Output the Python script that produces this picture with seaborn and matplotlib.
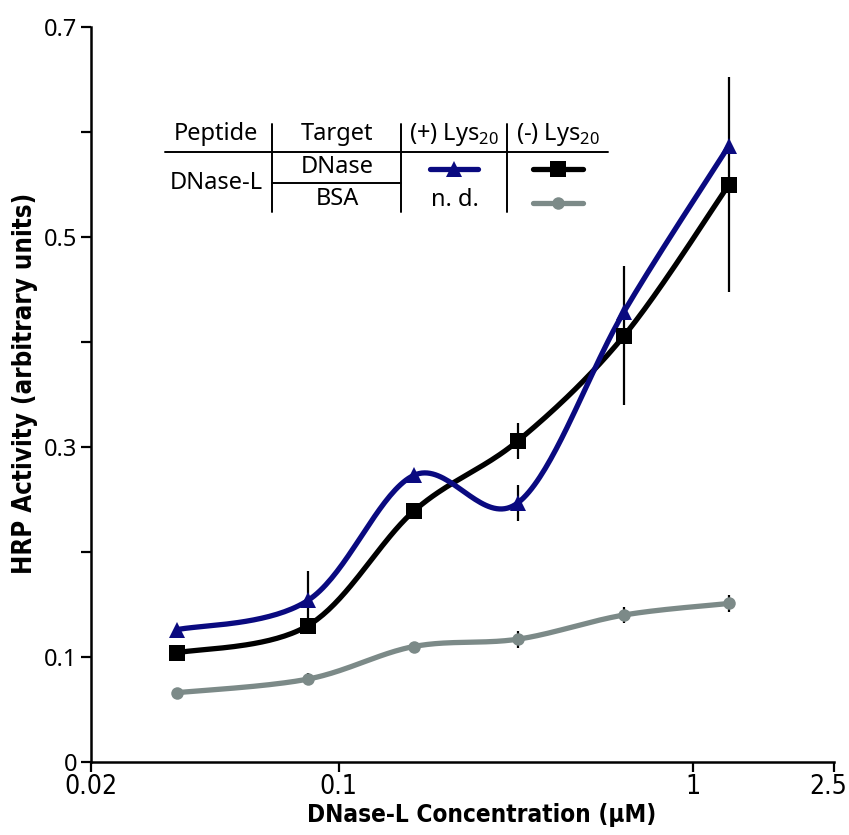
import numpy as np
import seaborn as sns
import matplotlib.pyplot as plt
import matplotlib.lines as mlines
import matplotlib.transforms as mtransforms
from matplotlib import font_manager

# concentrations (uM) and HRP activity
conc = [0.035, 0.082, 0.163, 0.321, 0.639, 1.264]
plus_dnase = [0.126, 0.154, 0.273, 0.247, 0.429, 0.587]
minus_dnase = [0.104, 0.130, 0.239, 0.306, 0.406, 0.550]
minus_bsa = [0.066, 0.079, 0.110, 0.117, 0.140, 0.151]

plus_dnase_err = [0.0, 0.028, 0.0, 0.017, 0.0, 0.0]
minus_dnase_err = [0.0, 0.0, 0.0, 0.017, 0.066, 0.102]
minus_bsa_err = [0.0, 0.006, 0.0, 0.008, 0.008, 0.008]

x_ticks = [0.02, 0.1, 1, 2.5]
x_tick_labels = ["0.02", "0.1", "1", "2.5"]
y_ticks = [0, 0.1, 0.2, 0.3, 0.4, 0.5, 0.6, 0.7]
y_tick_labels = ["0", "0.1", "", "0.3", "", "0.5", "", "0.7"]

BLUE = "#0a0a80"
BLACK = "#000000"
GREY = "#7c8a88"

cond = font_manager.FontProperties(family="DejaVu Sans", stretch="condensed")
cond_bold = font_manager.FontProperties(family="DejaVu Sans", stretch="condensed", weight="bold")


def catmull_rom(xs, ys, n=40):
    # smooth curve like the spreadsheet "smoothed line", done in log-x space
    lx = np.log10(xs)
    pts = np.column_stack([lx, ys])
    pts = np.vstack([pts[0], pts, pts[-1]])
    out = []
    t = np.linspace(0, 1, n)[:, None]
    for i in range(1, len(pts) - 2):
        p0, p1, p2, p3 = pts[i - 1], pts[i], pts[i + 1], pts[i + 2]
        seg = 0.5 * (2 * p1 + (-p0 + p2) * t + (2 * p0 - 5 * p1 + 4 * p2 - p3) * t ** 2
                     + (-p0 + 3 * p1 - 3 * p2 + p3) * t ** 3)
        out.append(seg)
    out = np.vstack(out)
    return 10 ** out[:, 0], out[:, 1]


series = [
    ("(-) Lys20 BSA", minus_bsa, minus_bsa_err, GREY, "o", 9),
    ("(-) Lys20 DNase", minus_dnase, minus_dnase_err, BLACK, "s", 12),
    ("(+) Lys20 DNase", plus_dnase, plus_dnase_err, BLUE, "^", 11),
]

sns.set_style("ticks")
plt.rcParams["font.family"] = ["Noto Sans", "DejaVu Sans"]
plt.rcParams["text.color"] = "black"
plt.rcParams["axes.labelcolor"] = "black"
plt.rcParams["xtick.color"] = "black"
plt.rcParams["ytick.color"] = "black"

fig = plt.figure(figsize=(8.49, 8.35), dpi=100)
ax = fig.add_axes([91 / 849, 1 - 762 / 835, 743 / 849, 735 / 835])

for name, ys, err, color, marker, ms in series:
    sx, sy = catmull_rom(conc, ys)
    sns.lineplot(x=sx, y=sy, sort=False, estimator=None, color=color,
                 linewidth=3.8, ax=ax)

for name, ys, err, color, marker, ms in series:
    e = np.array(err)
    mask = e > 0
    ax.errorbar(np.array(conc)[mask], np.array(ys)[mask], yerr=e[mask], fmt="none",
                ecolor="black", elinewidth=1.6, capsize=0, zorder=2)
    ax.plot(conc, ys, linestyle="none", marker=marker, markersize=ms, color=color,
            markeredgewidth=0, zorder=4)

ax.set_xscale("log")
ax.set_xlim(0.02, 2.5)
ax.set_ylim(0, 0.7)
ax.set_xticks(x_ticks)
ax.set_xticklabels(x_tick_labels, fontproperties=cond, fontsize=19)
ax.minorticks_off()
ax.set_yticks(y_ticks)
ax.set_yticklabels(y_tick_labels, fontsize=17)
ax.tick_params(axis="both", direction="out", length=7, width=1.6, color="black",
               labelcolor="black")
ax.tick_params(axis="x", pad=2)
ax.tick_params(axis="y", pad=3)
# last x label sits a little inside the right edge
last = ax.get_xticklabels()[-1]
last.set_transform(last.get_transform() + mtransforms.ScaledTranslation(-6 / 100, 0, fig.dpi_scale_trans))

for side in ["top", "right"]:
    ax.spines[side].set_visible(False)
for side in ["left", "bottom"]:
    ax.spines[side].set_linewidth(1.8)
    ax.spines[side].set_color("black")

ax.set_xlabel("DNase-L Concentration (\u03bcM)", fontproperties=cond_bold, fontsize=17.5)
ax.set_ylabel("HRP Activity (arbitrary units)", fontproperties=cond_bold, fontsize=18.5)
ax.xaxis.set_label_coords((482 - 91) / 743, -(815 - 762) / 735)
ax.yaxis.set_label_coords(-(91 - 25) / 743, (762 - 383) / 735)
ax.xaxis.label.set_va("center")
ax.yaxis.label.set_va("center")

# table-style legend drawn in figure pixel coordinates
W, H = 849, 835


def px(x, y):
    return x / W, 1 - y / H


def fline(x0, y0, x1, y1, **kw):
    (a, b), (c, d) = px(x0, y0), px(x1, y1)
    fig.add_artist(mlines.Line2D([a, c], [b, d], transform=fig.transFigure, **kw))


def ftext(x, y, s):
    fig.text(*px(x, y), s, ha="center", va="center", fontsize=17, color="black")


fline(165, 152, 608, 152, color="black", linewidth=1.4)
fline(272, 183, 401, 183, color="black", linewidth=1.4)
for xv in [272, 401, 507]:
    fline(xv, 124, xv, 212, color="black", linewidth=1.4)

ftext(216, 134, "Peptide")
ftext(337, 134, "Target")
ftext(454, 134, r"(+) Lys$_{\mathregular{20}}$")
ftext(558, 134, r"(-) Lys$_{\mathregular{20}}$")
ftext(216, 183, "DNase-L")
ftext(337, 167, "DNase")
ftext(337, 199, "BSA")
ftext(455, 200, "n. d.")

fline(430, 169, 478, 169, color=BLUE, linewidth=3.8)
fline(533, 169, 583, 169, color=BLACK, linewidth=3.8)
fline(533, 203, 583, 203, color=GREY, linewidth=3.8)
for (x, y), color, marker, ms in [((454, 169), BLUE, "^", 11), ((558, 169), BLACK, "s", 12),
                                  ((558, 203), GREY, "o", 9)]:
    a, b = px(x, y)
    fig.add_artist(mlines.Line2D([a], [b], transform=fig.transFigure, color=color,
                                 marker=marker, markersize=ms, markeredgewidth=0, linestyle="none"))

fig.savefig("out.png", dpi=100)
